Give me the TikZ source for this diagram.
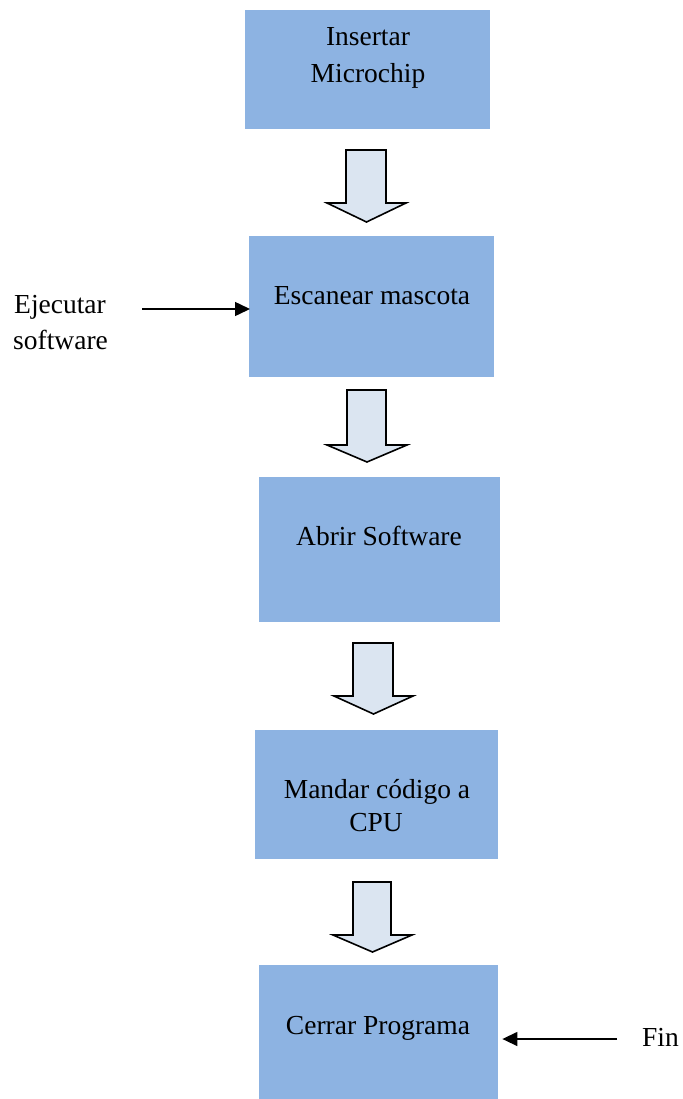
\documentclass[tikz,border=0pt]{standalone}
\usepackage{fontspec}
\setmainfont{Liberation Serif}
\usetikzlibrary{arrows.meta}
\definecolor{boxblue}{HTML}{8DB3E2}
\definecolor{arrowfill}{HTML}{DBE5F1}
\tikzset{
  stepbox/.style={fill=boxblue, draw=none, inner sep=0pt, anchor=north west},
  txt/.style={inner sep=0pt, anchor=base, align=center,
    font=\fontsize{27.5bp}{37bp}\selectfont},
  sidetxt/.style={txt, anchor=base west, align=left},
  blockarrow/.style={draw=black, fill=arrowfill, line width=1.6bp, line join=miter},
  pointer/.style={draw=black, line width=1.5bp,
    -{Triangle[length=15bp,width=14bp]}}
}
\newcommand{\downblock}[7]{%
  % #1,#2 shaft x; #3 top; #4 shoulder; #5,#6 head x; #7 tip y
  \draw[blockarrow] (#1,#3) -- (#2,#3) -- (#2,#4) -- (#6,#4)
    -- ({(#5+#6)/2},#7) -- (#5,#4) -- (#1,#4) -- cycle;}
\begin{document}
\begin{tikzpicture}[x=1bp,y=-1bp]
  \useasboundingbox (0,0) rectangle (683,1099);

  % process boxes
  \node[stepbox, minimum width=245bp, minimum height=119bp] (b1) at (245,10) {};
  \node[stepbox, minimum width=245bp, minimum height=141bp] (b2) at (249,236) {};
  \node[stepbox, minimum width=241bp, minimum height=145bp] (b3) at (259,477) {};
  \node[stepbox, minimum width=243bp, minimum height=129bp] (b4) at (255,730) {};
  \node[stepbox, minimum width=239bp, minimum height=134bp] (b5) at (259,965) {};

  % box labels
  \node[txt] (t1a) at (368,45) {Insertar};
  \node[txt] (t1b) at (368,82) {Microchip};
  \node[txt] (t2) at (372,304) {Escanear mascota};
  \node[txt] (t3) at (379,545) {Abrir Software};
  \node[txt] (t4a) at (377,798) {Mandar código a};
  \node[txt] (t4b) at (376,831) {CPU};
  \node[txt] (t5) at (378,1034) {Cerrar Programa};

  % block arrows between steps
  \downblock{346}{386}{150}{203}{327}{406}{222}
  \downblock{347}{386}{390}{445}{327}{407}{462}
  \downblock{353}{393}{643}{696}{334}{413}{714}
  \downblock{353}{391}{882}{935}{333}{412}{952}

  % side inputs
  \node[sidetxt] (ej1) at (14,313) {Ejecutar};
  \node[sidetxt] (ej2) at (13,349) {software};
  \coordinate (e0) at (142,309);
  \draw[pointer] (e0) -- ([xshift=1bp]b2.west |- e0);

  \node[sidetxt] (fin) at (642,1046) {Fin};
  \coordinate (f0) at (617,1039);
  \draw[pointer] (f0) -- ([xshift=4bp]b5.east |- f0);
\end{tikzpicture}
\end{document}
